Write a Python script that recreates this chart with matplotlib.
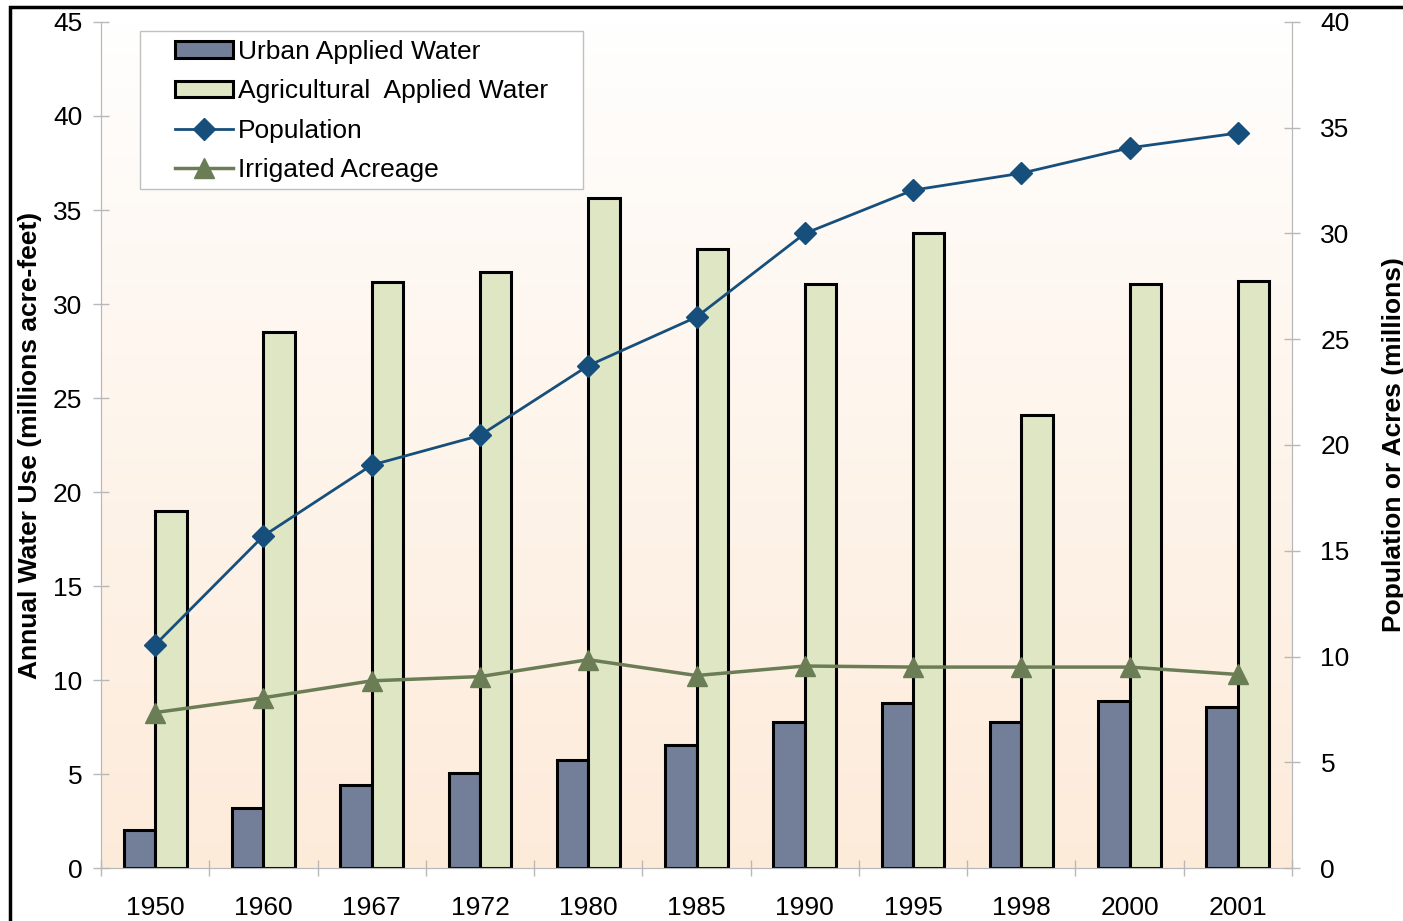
import numpy as np
import matplotlib.pyplot as plt
from matplotlib.patches import Rectangle
from matplotlib.lines import Line2D

plt.rcParams['font.family'] = ['Liberation Sans', 'DejaVu Sans']

years = ['1950', '1960', '1967', '1972', '1980', '1985', '1990', '1995', '1998', '2000', '2001']
urban = [2.0, 3.2, 4.4, 5.05, 5.75, 6.55, 7.75, 8.8, 7.75, 8.9, 8.55]
agri = [19.0, 28.5, 31.15, 31.7, 35.65, 32.95, 31.05, 33.75, 24.1, 31.05, 31.2]
population = [10.55, 15.7, 19.05, 20.45, 23.75, 26.05, 30.0, 32.05, 32.85, 34.05, 34.75]
acreage = [7.35, 8.05, 8.85, 9.05, 9.85, 9.1, 9.55, 9.5, 9.5, 9.5, 9.15]

c_urban = '#737f99'
c_agri = '#dfe6c4'
c_pop = '#174f7c'
c_acre = '#6b7d55'
c_axis = '#b8b8b8'
fs = 19

fig = plt.figure(figsize=(14.03, 9.21), dpi=100)
ax = fig.add_axes([101/1403, 1 - 868/921, 1191/1403, 846/921])

x = np.arange(len(years))
w = 0.29

# background gradient white -> peach
grad = np.linspace(0, 1, 256).reshape(-1, 1)
top = np.array([1.0, 1.0, 1.0])
bot = np.array([253, 235, 218]) / 255
img = top + (bot - top) * grad[:, :, None] ** 0.9
ax.imshow(img, extent=[-0.5, 10.5, 0, 45], aspect='auto', zorder=0, origin='upper')

b1 = ax.bar(x - w/2, urban, w, color=c_urban, edgecolor='black', linewidth=2.2, zorder=2)
b2 = ax.bar(x + w/2, agri, w, color=c_agri, edgecolor='black', linewidth=2.2, zorder=2)

ax.set_xlim(-0.5, 10.5)
ax.set_ylim(0, 45)
ax.set_yticks(np.arange(0, 46, 5))
ax.set_xticks(x)
ax.set_xticklabels(years)
ax.set_xticks(np.arange(-0.5, 11, 1), minor=True)
ax.tick_params(axis='x', which='major', length=0, labelsize=fs, pad=20)
ax.tick_params(axis='x', which='minor', direction='inout', length=12, color=c_axis, width=1)
ax.tick_params(axis='y', direction='inout', length=11, color=c_axis, width=1, labelsize=fs, pad=8)
for s in ['left', 'bottom', 'right']:
    ax.spines[s].set_color(c_axis)
ax.spines['top'].set_visible(False)
ax.set_ylabel('Annual Water Use (millions acre-feet)', fontsize=fs, fontweight='bold', labelpad=8)

ax2 = ax.twinx()
ax2.set_ylim(0, 40)
ax2.set_yticks(np.arange(0, 41, 5))
ax2.plot(x, population, color=c_pop, lw=2, marker='D', ms=11, zorder=3)
ax2.plot(x, acreage, color=c_acre, lw=2.5, marker='^', ms=14, zorder=3)
ax2.tick_params(axis='y', direction='inout', length=11, color=c_axis, width=1, labelsize=fs, pad=15)
for s in ['left', 'bottom', 'right']:
    ax2.spines[s].set_color(c_axis)
ax2.spines['top'].set_visible(False)
ax2.set_ylabel('Population or Acres (millions)', fontsize=fs, fontweight='bold', labelpad=23)

handles = [b1, b2,
           Line2D([], [], color=c_pop, lw=2, marker='D', ms=11),
           Line2D([], [], color=c_acre, lw=2.5, marker='^', ms=14)]
labels = ['Urban Applied Water', 'Agricultural  Applied Water', 'Population', 'Irrigated Acreage']
leg = ax2.legend(handles, labels, loc='upper left', bbox_to_anchor=(74/1191, (868-40)/846),
                 fontsize=fs, frameon=False, handlelength=2.2, handleheight=0.6,
                 handletextpad=0.2, labelspacing=0.58, borderpad=0, borderaxespad=0)

# legend frame drawn separately to match its padding
ax2.add_patch(Rectangle((39/1191, (868-189)/846), 443/1191, 158/846, transform=ax2.transAxes,
                        facecolor='white', edgecolor='#c0c0c0', lw=1, zorder=4))
leg.set_zorder(5)

# outer frame
fig.patches.append(Rectangle((10/1403, -0.05), 1.1, 1 - 7/921 + 0.05, transform=fig.transFigure,
                             fill=False, edgecolor='black', lw=2.5, zorder=10))

fig.savefig('out.png', dpi=100)
